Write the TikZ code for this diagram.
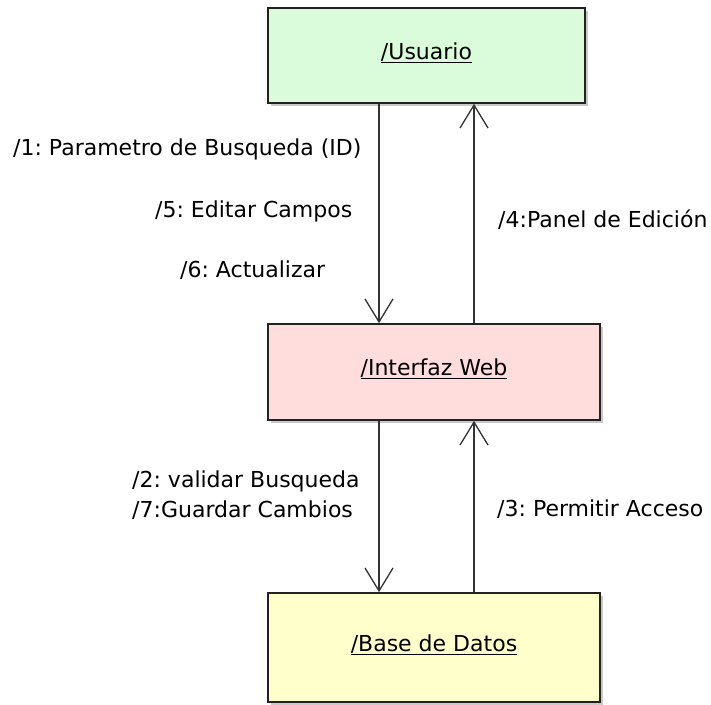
\documentclass[tikz,border=0pt]{standalone}
\usepackage{fontspec}
\setmainfont{DejaVu Sans}
\usetikzlibrary{arrows.meta,shadows}
\frenchspacing
\newcommand\ulbl[1]{\setbox0\hbox{#1}\rlap{\rule[-3.5pt]{\wd0}{1pt}}\box0}
\definecolor{boxgreen}{RGB}{218,252,218}
\definecolor{boxpink}{RGB}{255,221,221}
\definecolor{boxyellow}{RGB}{255,255,204}
\definecolor{edge}{RGB}{34,34,34}
\definecolor{wire}{RGB}{51,51,51}
\begin{document}
\begin{tikzpicture}[x=1pt,y=-1pt,
  every node/.style={font=\fontsize{22pt}{24pt}\selectfont\frenchspacing, text=black},
  objbox/.style={draw=edge, line width=1.6pt, rectangle, inner sep=0pt,
    text height=15.7pt, text depth=8pt,
    drop shadow={shadow xshift=2.5pt, shadow yshift=-2.5pt, opacity=0.35, fill=black!60}},
  msg/.style={anchor=base west, inner sep=0pt},
  arr/.style={draw=wire, line width=1.4pt, -{Straight Barb[length=23pt,width=28pt,line width=1.3pt]}}
]
\useasboundingbox (0,0) rectangle (711,704);
\fill[white] (0,0) rectangle (711,704);

\node[objbox, fill=boxgreen, minimum width=317pt, minimum height=95pt] (usu) at (426.5,55.5) {\ulbl{/Usuario}};
\node[objbox, fill=boxpink, minimum width=332pt, minimum height=96pt] (web) at (434,372) {\ulbl{/Interfaz Web}};
\node[objbox, fill=boxyellow, minimum width=332pt, minimum height=109pt] (bd) at (434,647.5) {\ulbl{/Base de Datos}};

\coordinate (xa) at (379,0);
\coordinate (xb) at (474,0);

\draw[arr] (usu.south -| xa) -- (web.north -| xa);
\draw[arr] (web.north -| xb) -- (usu.south -| xb);
\draw[arr] (web.south -| xa) -- (bd.north -| xa);
\draw[arr] (bd.north -| xb) -- (web.south -| xb);

\node[msg] (m1) at (13,155) {/1: Parametro de Busqueda (ID)};
\node[msg] (m5) at (155,217) {/5: Editar Campos};
\node[msg] (m6) at (180,277) {/6: Actualizar};
\node[msg] (m4) at (498,227) {/4:Panel de Edición};
\node[msg] (m2) at (132,487) {/2: validar Busqueda};
\node[msg] (m7) at (132,517) {/7:Guardar Cambios};
\node[msg] (m3) at (497,516) {/3: Permitir Acceso};
\end{tikzpicture}
\end{document}
